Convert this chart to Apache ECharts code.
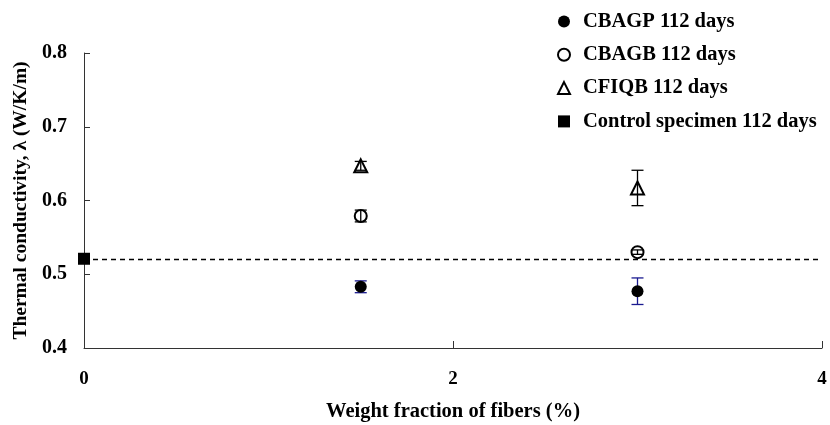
<!DOCTYPE html>
<html>
<head>
<meta charset="utf-8">
<script src="https://cdn.jsdelivr.net/npm/echarts@6/dist/echarts.min.js"></script>
<style>
html, body { margin: 0; padding: 0; background: #fff; }
#chart { width: 830px; height: 425px; }
</style>
</head>
<body>
<div id="chart"></div>
<script>
// fiber content (%) of the specimens
const fiberX = [1.5, 3];
const controlX = [0];

// thermal conductivity (W/K/m) and error half-widths
const cbagpVals = [0.483, 0.477];
const cbagpErr = [0.008, 0.018];
const cbagbVals = [0.579, 0.530];
const cbagbErr = [0.008, 0.003];
const cfiqbVals = [0.647, 0.617];
const cfiqbErr = [0.006, 0.024];
const controlVals = [0.521];

const xTicks = [0, 2, 4];
const yTicks = [0.4, 0.5, 0.6, 0.7, 0.8];

const names = ['CBAGP 112 days', 'CBAGB 112 days', 'CFIQB 112 days', 'Control specimen 112 days'];

const font = '"Liberation Serif", "Times New Roman", serif';

function points(xs, ys) {
    return xs.map((x, i) => [x, ys[i]]);
}
function errRows(xs, ys, es) {
    return xs.map((x, i) => [x, ys[i] - es[i], ys[i] + es[i]]);
}

function errorBar(data, color, z) {
    return {
        type: 'custom',
        data: data,
        z: z,
        silent: true,
        encode: { x: 0, y: [1, 2] },
        renderItem: function (params, api) {
            const lo = api.coord([api.value(0), api.value(1)]);
            const hi = api.coord([api.value(0), api.value(2)]);
            const w = 6;
            const style = { stroke: color, lineWidth: 1.3 };
            return {
                type: 'group',
                children: [
                    { type: 'line', shape: { x1: lo[0], y1: lo[1], x2: hi[0], y2: hi[1] }, style: style },
                    { type: 'line', shape: { x1: lo[0] - w, y1: lo[1], x2: lo[0] + w, y2: lo[1] }, style: style },
                    { type: 'line', shape: { x1: hi[0] - w, y1: hi[1], x2: hi[0] + w, y2: hi[1] }, style: style }
                ]
            };
        }
    };
}

const chart = echarts.init(document.getElementById('chart'));
chart.setOption({
    animation: false,
    backgroundColor: '#fff',
    textStyle: { fontFamily: font },
    grid: { left: 84, right: 8, top: 53, bottom: 77, outerBoundsMode: 'none' },
    legend: {
        data: names,
        orient: 'vertical',
        left: 552,
        top: 6,
        itemWidth: 12,
        itemHeight: 12,
        itemGap: 12.3,
        textStyle: { fontFamily: font, fontWeight: 'bold', fontSize: 20.5, color: '#000', padding: [0, 0, 0, 8] }
    },
    xAxis: {
        type: 'value',
        min: xTicks[0],
        max: xTicks[xTicks.length - 1],
        interval: 2,
        name: 'Weight fraction of fibers (%)',
        nameLocation: 'middle',
        nameGap: 53,
        nameTextStyle: { fontFamily: font, fontWeight: 'bold', fontSize: 20.5, color: '#000' },
        axisLine: { lineStyle: { color: '#333', width: 1 } },
        axisTick: { inside: true, length: 7, lineStyle: { color: '#333' } },
        axisLabel: { margin: 22, fontFamily: font, fontWeight: 'bold', fontSize: 19, color: '#000' },
        splitLine: { show: false }
    },
    yAxis: {
        type: 'value',
        min: yTicks[0],
        max: yTicks[yTicks.length - 1],
        interval: 0.1,
        name: 'Thermal conductivity, \u03bb (W/K/m)',
        nameLocation: 'middle',
        nameGap: 52,
        nameTextStyle: { fontFamily: font, fontWeight: 'bold', fontSize: 19.5, color: '#000' },
        axisLine: { show: true, lineStyle: { color: '#333', width: 1 } },
        axisTick: { show: true, inside: true, length: 6, lineStyle: { color: '#333' } },
        axisLabel: { margin: 17, fontFamily: font, fontWeight: 'bold', fontSize: 20, color: '#000',
            formatter: v => v.toFixed(1) },
        splitLine: { show: false }
    },
    series: [
        {
            name: names[0], type: 'scatter', symbol: 'circle', symbolSize: 12, z: 3,
            itemStyle: { color: '#000', opacity: 1 },
            data: points(fiberX, cbagpVals)
        },
        {
            name: names[1], type: 'scatter', symbol: 'emptyCircle', symbolSize: 12, z: 3,
            itemStyle: { color: '#000', borderWidth: 1.2, opacity: 1 },
            data: points(fiberX, cbagbVals)
        },
        {
            name: names[2], type: 'scatter', symbol: 'emptyTriangle', symbolSize: 13, z: 3,
            itemStyle: { color: '#000', borderWidth: 1.2, opacity: 1 },
            data: points(fiberX, cfiqbVals)
        },
        {
            name: names[3], type: 'scatter', symbol: 'rect', symbolSize: 12, z: 3,
            itemStyle: { color: '#000', opacity: 1 },
            data: points(controlX, controlVals),
            markLine: {
                silent: true,
                symbol: 'none',
                label: { show: false },
                lineStyle: { color: '#000', type: [5, 4], width: 1.3 },
                data: [{ yAxis: controlVals[0] }]
            }
        },
        errorBar(errRows(fiberX, cbagpVals, cbagpErr), '#1a1a90', 1),
        errorBar(errRows(fiberX, cbagbVals, cbagbErr), '#000', 5),
        errorBar(errRows(fiberX, cfiqbVals, cfiqbErr), '#000', 5)
    ]
});
</script>
</body>
</html>
